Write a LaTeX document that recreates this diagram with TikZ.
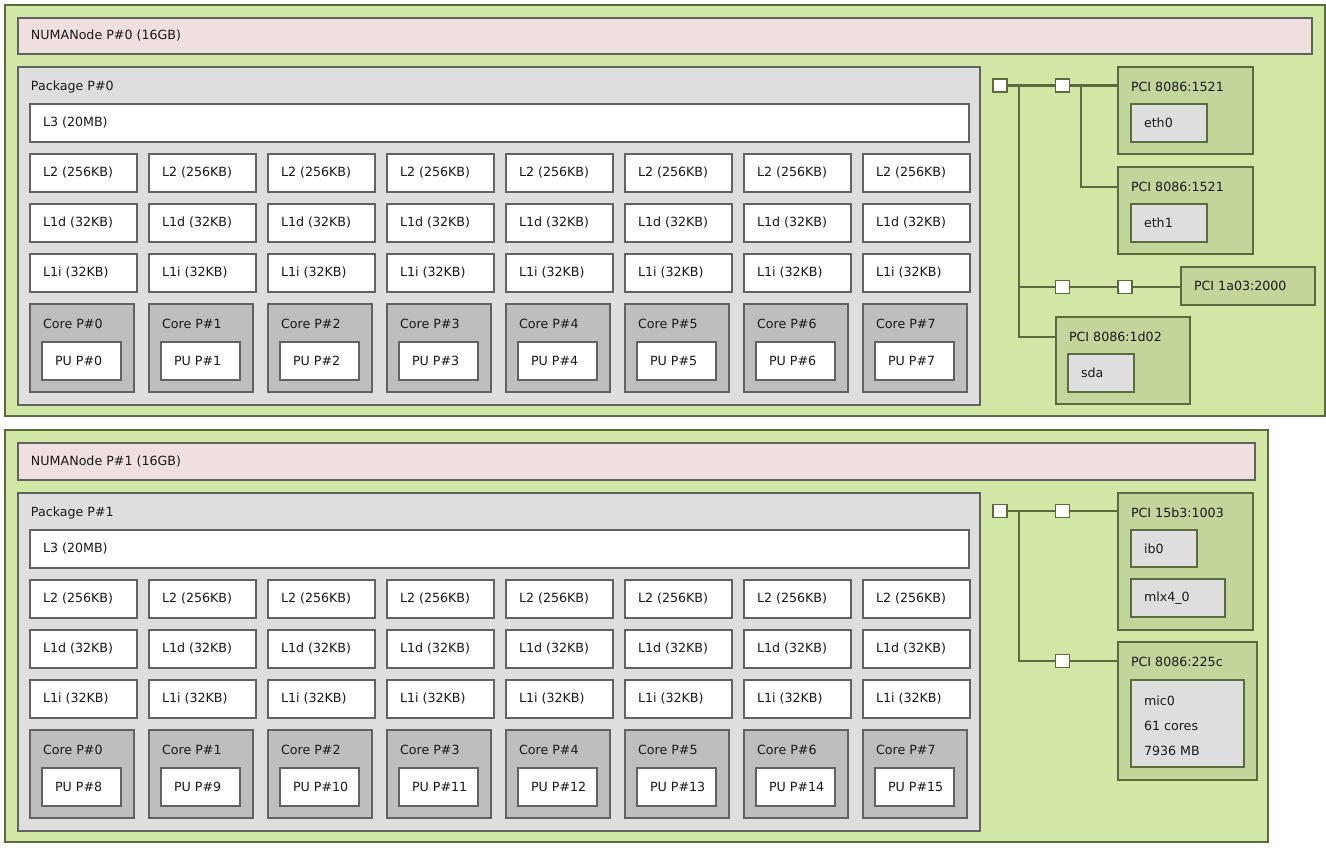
\documentclass[tikz,border=0pt]{standalone}
\usepackage{fontspec}
\setmainfont{DejaVu Sans}
\begin{document}
\begin{tikzpicture}[x=0.02cm,y=-0.02cm,
  every node/.style={inner sep=0pt,outer sep=0pt},
  lbl/.style={font=\fontsize{7.2}{8.5}\selectfont,text=black!90,anchor=west},
  boxgreen/.style={draw=olivedark,fill=nodegreen,line width=1.1pt},
  boxpink/.style={draw=greydark,fill=mempink,line width=1.1pt},
  boxpack/.style={draw=greydark,fill=packgrey,line width=1.1pt},
  boxcache/.style={draw=greydark,fill=white,line width=1.1pt},
  boxcore/.style={draw=greydark,fill=coregrey,line width=1.1pt},
  boxpci/.style={draw=olivedark,fill=pcigreen,line width=1.1pt},
  boxos/.style={draw=olivedark,fill=packgrey,line width=1.1pt},
  sq/.style={draw=olivedark,fill=white,line width=1.1pt,minimum width=14*0.02cm,minimum height=13*0.02cm},
  link/.style={draw=olivedark,line width=1.3pt}]
\definecolor{nodegreen}{HTML}{D2E6A6}
\definecolor{pcigreen}{HTML}{C2D69C}
\definecolor{mempink}{HTML}{EFDFDE}
\definecolor{packgrey}{HTML}{DEDEDE}
\definecolor{coregrey}{HTML}{BEBEBE}
\definecolor{greydark}{HTML}{626262}
\definecolor{olivedark}{HTML}{5B6B3E}
% box with label at top
\newcommand{\hwtop}[7]{%
  \node[#1,anchor=north west,minimum width={((#5)-(#3))*0.02cm},minimum height={((#6)-(#4))*0.02cm}] (#2) at ({#3},{#4}) {};
  \node[lbl] (#2-t) at ({(#3)+13},{(#4)+20}) {#7};}
% box with label centred vertically
\newcommand{\hwmid}[7]{%
  \node[#1,anchor=north west,minimum width={((#5)-(#3))*0.02cm},minimum height={((#6)-(#4))*0.02cm}] (#2) at ({#3},{#4}) {};
  \node[lbl] (#2-t) at ({(#3)+13},{((#4)+(#6))/2}) {#7};}
\useasboundingbox (0,0) rectangle (1326,852);
\fill[white] (0,0) rectangle (1326,852);

% NUMA nodes
\node[boxgreen,anchor=north west,minimum width=1320*0.02cm,minimum height=411*0.02cm] (g0) at (5,5) {};
\node[boxgreen,anchor=north west,minimum width=1263*0.02cm,minimum height=412*0.02cm] (g1) at (5,430) {};
\hwmid{boxpink}{m0}{18}{18}{1312}{54}{NUMANode P\#0 (16GB)}
\hwmid{boxpink}{m1}{18}{443}{1255}{480}{NUMANode P\#1 (16GB)}

\foreach \p/\o in {0/0,1/426}{
  \hwtop{boxpack}{pk\p}{18}{67+\o}{980}{405+\o}{Package P\#\p}
  \hwmid{boxcache}{l3-\p}{30}{104+\o}{969}{142+\o}{L3 (20MB)}
  \foreach \i in {0,...,7}{
    \pgfmathtruncatemacro{\xa}{30+119*\i}
    \pgfmathtruncatemacro{\xb}{137+119*\i}
    \pgfmathtruncatemacro{\xc}{134+119*\i}
    \pgfmathtruncatemacro{\xd}{42+119*\i}
    \pgfmathtruncatemacro{\xe}{121+119*\i}
    \pgfmathtruncatemacro{\pu}{\i+8*\p}
    \hwmid{boxcache}{l2-\p-\i}{\xa}{154+\o}{\xb}{192+\o}{L2 (256KB)}
    \hwmid{boxcache}{l1d-\p-\i}{\xa}{204+\o}{\xb}{242+\o}{L1d (32KB)}
    \hwmid{boxcache}{l1i-\p-\i}{\xa}{254+\o}{\xb}{292+\o}{L1i (32KB)}
    \hwtop{boxcore}{c-\p-\i}{\xa}{304+\o}{\xc}{392+\o}{Core P\#\i}
    \hwmid{boxcache}{pu-\p-\i}{\xd}{342+\o}{\xe}{380+\o}{PU P\#\pu}
  }
}

% PCI tree, node 0
\node[sq] (s1) at (1000,85.5) {};
\node[sq] (s2) at (1062.5,85.5) {};
\hwtop{boxpci}{pci1}{1118}{67}{1253}{154}{PCI 8086:1521}
\hwmid{boxos}{eth0}{1131}{104}{1207}{142}{eth0}
\hwtop{boxpci}{pci2}{1118}{167}{1253}{254}{PCI 8086:1521}
\hwmid{boxos}{eth1}{1131}{204}{1207}{242}{eth1}
\node[sq] (s3) at (1062.5,287) {};
\node[sq] (s4) at (1125,287) {};
\hwmid{boxpci}{pci3}{1181}{267}{1315}{305}{PCI 1a03:2000}
\hwtop{boxpci}{pci4}{1056}{317}{1190}{404}{PCI 8086:1d02}
\hwmid{boxos}{sda}{1068}{354}{1134}{392}{sda}
\coordinate (j0) at (1019,85.5);
\coordinate (j1) at (1081,85.5);
\draw[link] (s1.east) -- (s2.west);
\draw[link] (s2.east) -- (s2.east -| pci1.west);
\draw[link] (j1) |- (pci2-t.west -| pci2.west);
\draw[link] (j0) |- (pci4-t.west -| pci4.west);
\draw[link] (j0 |- s3) -- (s3.west);
\draw[link] (s3.east) -- (s4.west);
\draw[link] (s4.east) -- (s4.east -| pci3.west);

% PCI tree, node 1
\node[sq] (s5) at (1000,511) {};
\node[sq] (s6) at (1062.5,511) {};
\hwtop{boxpci}{pci5}{1118}{493}{1253}{630}{PCI 15b3:1003}
\hwmid{boxos}{ib0}{1131}{530}{1197}{567}{ib0}
\hwmid{boxos}{mlx}{1131}{579}{1225}{617}{mlx4\_0}
\node[sq] (s7) at (1062.5,661) {};
\hwtop{boxpci}{pci6}{1118}{642}{1257}{780}{PCI 8086:225c}
\node[boxos,anchor=north west,minimum width=113*0.02cm,minimum height=87*0.02cm] (mic) at (1131,680) {};
\node[lbl] (mic-a) at (1144,701) {mic0};
\node[lbl] (mic-b) at (1144,726) {61 cores};
\node[lbl] (mic-c) at (1144,751) {7936 MB};
\coordinate (j2) at (1019,511);
\draw[link] (s5.east) -- (s6.west);
\draw[link] (s6.east) -- (s6.east -| pci5.west);
\draw[link] (j2) |- (s7.west);
\draw[link] (s7.east) -- (s7.east -| pci6.west);
\end{tikzpicture}
\end{document}
